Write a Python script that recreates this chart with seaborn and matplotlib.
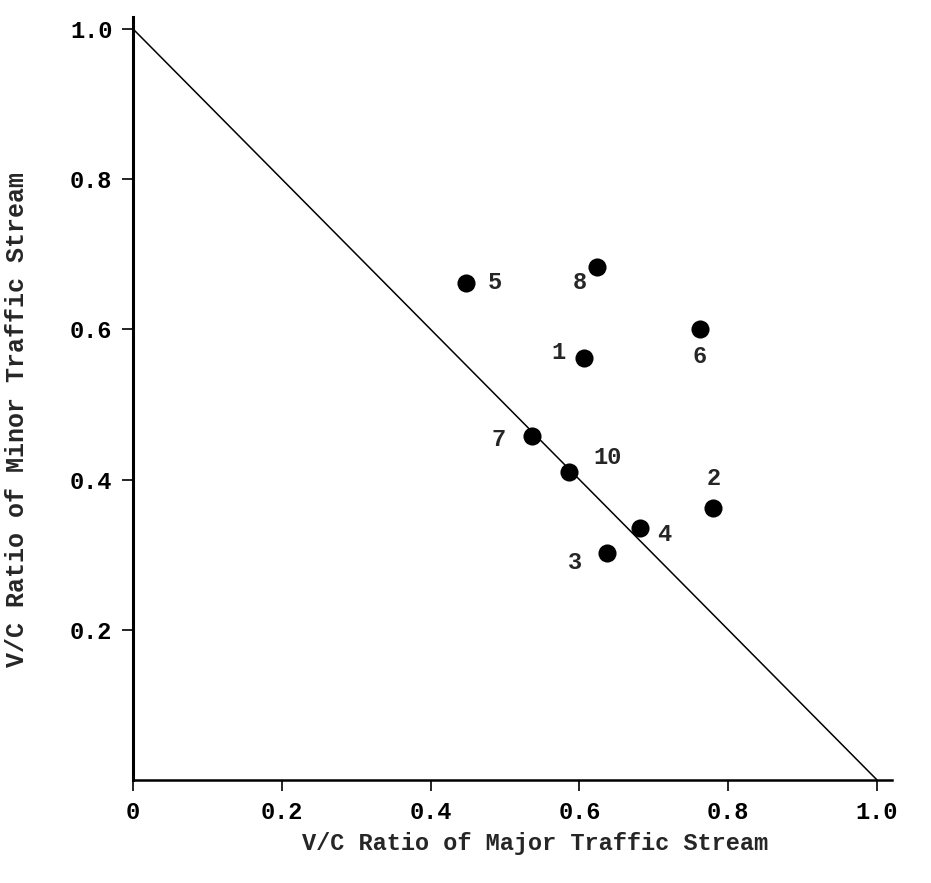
#!/usr/bin/env python3

"""
V/C ratio of minor vs major traffic stream at the study sites.
"""

import pandas as pd
import seaborn as sns
import matplotlib.pyplot as plt

# site numbers and their V/C ratios
sites = ["1", "2", "3", "4", "5", "6", "7", "8", "10"]
vc_major = [0.606, 0.780, 0.637, 0.681, 0.448, 0.762, 0.536, 0.624, 0.586]
vc_minor = [0.562, 0.362, 0.302, 0.336, 0.662, 0.601, 0.458, 0.683, 0.410]

# capacity boundary: major + minor = 1
boundary_major = [0.0, 1.0]
boundary_minor = [1.0, 0.0]

x_ticks = [0.0, 0.2, 0.4, 0.6, 0.8, 1.0]
x_tick_labels = ["0", "0.2", "0.4", "0.6", "0.8", "1.0"]
y_ticks = [0.2, 0.4, 0.6, 0.8, 1.0]
y_tick_labels = ["0.2", "0.4", "0.6", "0.8", "1.0"]


def main():
    df = pd.DataFrame({"site": sites, "major": vc_major, "minor": vc_minor})

    sns.set_style("ticks")
    plt.rcParams["font.family"] = ["Liberation Mono", "DejaVu Sans Mono"]
    plt.rcParams["font.weight"] = "bold"

    fig = plt.figure(figsize=(9.31, 8.83), dpi=100)
    ax = fig.add_axes([0.143, 0.1167, 0.815, 0.864])

    sns.lineplot(x=boundary_major, y=boundary_minor, color="black",
                 linewidth=1.1, ax=ax)
    sns.scatterplot(data=df, x="major", y="minor", color="black", s=170,
                    edgecolor="black", linewidth=0, ax=ax, zorder=3)

    # label offsets in pixels (dx, dy) relative to each dot
    offsets = {
        "1": (-25, 5), "2": (0, 30), "3": (-32, -9), "4": (24, -7),
        "5": (28, 0), "6": (0, -28), "7": (-33, -3), "8": (-18, -15),
        "10": (38, 15),
    }
    for _, row in df.iterrows():
        dx, dy = offsets[row["site"]]
        ax.annotate(row["site"], (row["major"], row["minor"]),
                    xytext=(dx * 0.72, dy * 0.72), textcoords="offset points",
                    ha="center", va="center", fontsize=17, fontweight="bold")

    ax.set_xlim(0, 1.02)
    ax.set_ylim(0, 1.016)
    ax.set_xticks(x_ticks, x_tick_labels)
    ax.set_yticks(y_ticks, y_tick_labels)
    ax.tick_params(axis="both", direction="out", length=8, width=1.2,
                   labelsize=17, colors="black", pad=7)
    for lab in ax.get_xticklabels() + ax.get_yticklabels():
        lab.set_fontweight("bold")

    ax.set_xlabel("V/C Ratio of Major Traffic Stream", fontsize=17,
                  fontweight="bold")
    ax.set_ylabel("V/C Ratio of Minor Traffic Stream", fontsize=18,
                  fontweight="bold")
    ax.xaxis.set_label_coords(0.53, -0.068)
    ax.yaxis.set_label_coords(-0.137, 0.472)

    sns.despine(ax=ax)
    ax.spines["left"].set_linewidth(2.2)
    ax.spines["bottom"].set_linewidth(1.8)
    ax.spines["left"].set_color("black")
    ax.spines["bottom"].set_color("black")

    fig.savefig("out.png", dpi=100)


if __name__ == "__main__":
    main()
